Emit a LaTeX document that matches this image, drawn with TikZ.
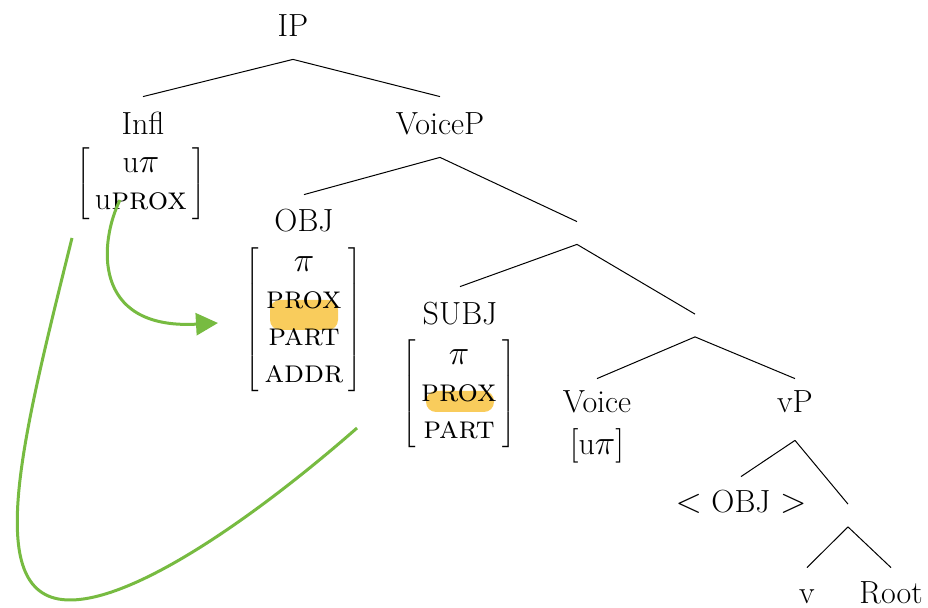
\documentclass[tikz,border=0pt]{standalone}
\usepackage{tikz}
\usetikzlibrary{arrows.meta, positioning}
\definecolor{agreegreen}{RGB}{119,187,65}
\definecolor{hlyellow}{RGB}{249,204,92}
\tikzstyle{cat} = [text height=11pt, text depth=0pt, inner sep=0pt, anchor=base]
\tikzstyle{gap} = [inner sep=0pt, minimum height=11pt, minimum width=0pt]
\tikzstyle{feat} = [inner sep=0pt]
\tikzstyle{branch} = [line width=0.5pt]
\tikzstyle{hl} = [fill=hlyellow, rounded corners=5pt]
\tikzstyle{agree} = [draw=agreegreen, line width=1.5pt]
\tikzstyle{arrow} = [-{Triangle[length=11pt,width=11pt]}]

\begin{document}
\begin{tikzpicture}[x=0.5pt, y=-0.5pt, font=\fontsize{16}{18.5}\selectfont]
\useasboundingbox (0,0) rectangle (928,608);
%highlighted features
\fill[hl] (270,300) rectangle (338,330);
\fill[hl] (426,391) rectangle (494,412);
%tree nodes
\node[cat] (ip) at (293,37) {IP};
\node[cat] (infl) at (143,135) {Infl};
\node[feat] (inflf) at (141,184) {$\left[\begin{tabular}{@{\,}c@{\,}}u$\pi$\\u\textsc{prox}\end{tabular}\right]$};
\node[cat] (voicep) at (440,135) {VoiceP};
\node[cat] (obj) at (304,232) {OBJ};
\node[feat] (objf) at (304,320) {$\left[\begin{tabular}{@{\,}c@{\,}}$\pi$\\\textsc{prox}\\\textsc{part}\\\textsc{addr}\end{tabular}\right]$};
\node[gap] (vbar1) at (577,233) {};
\node[cat] (subj) at (460,325) {SUBJ};
\node[feat] (subjf) at (459,394) {$\left[\begin{tabular}{@{\,}c@{\,}}$\pi$\\\textsc{prox}\\\textsc{part}\end{tabular}\right]$};
\node[gap] (vbar2) at (695,325.5) {};
\node[cat] (voice) at (597,413) {Voice};
\node[feat] (voicef) at (597,446) {$[$u$\pi]$};
\node[cat] (vp) at (795,413) {vP};
\node[cat] (objcopy) at (741,513) {$<$ OBJ $>$};
\node[gap] (vbar3) at (848,515.5) {};
\node[cat] (little) at (807,604) {v};
\node[cat] (root) at (891,604) {Root};
%branches
\draw[branch] ([yshift=-11pt]ip.south) -- ([yshift=8pt]infl.north);
\draw[branch] ([yshift=-11pt]ip.south) -- ([yshift=8pt]voicep.north);
\draw[branch] ([yshift=-11pt]voicep.south) -- ([yshift=7.5pt]obj.north);
\draw[branch] ([yshift=-11pt]voicep.south) -- (vbar1.north);
\draw[branch] (vbar1.south) -- ([yshift=8pt]subj.north);
\draw[branch] (vbar1.south) -- (vbar2.north);
\draw[branch] (vbar2.south) -- ([yshift=6pt]voice.north);
\draw[branch] (vbar2.south) -- ([yshift=6pt]vp.north);
\draw[branch] ([yshift=-13.5pt]vp.south) -- ([yshift=7pt]objcopy.north);
\draw[branch] ([yshift=-13.5pt]vp.south) -- (vbar3.north);
\draw[branch] (vbar3.south) -- ([yshift=7pt]little.north);
\draw[branch] (vbar3.south) -- ([yshift=7pt]root.north);
%agreement paths
\coordinate (agrA) at (120,200);
\coordinate (agrB) at (218,323);
\coordinate (agrC) at (72,238);
\coordinate (agrD) at (357,428);
\draw[agree, arrow] (agrA) .. controls (100,240) and (90,330) .. (agrB);
\draw[agree] (agrC) .. controls (22,440) and (-20,600) .. (70,600) .. controls (140,600) and (267,507) .. (agrD);
\end{tikzpicture}
\end{document}
